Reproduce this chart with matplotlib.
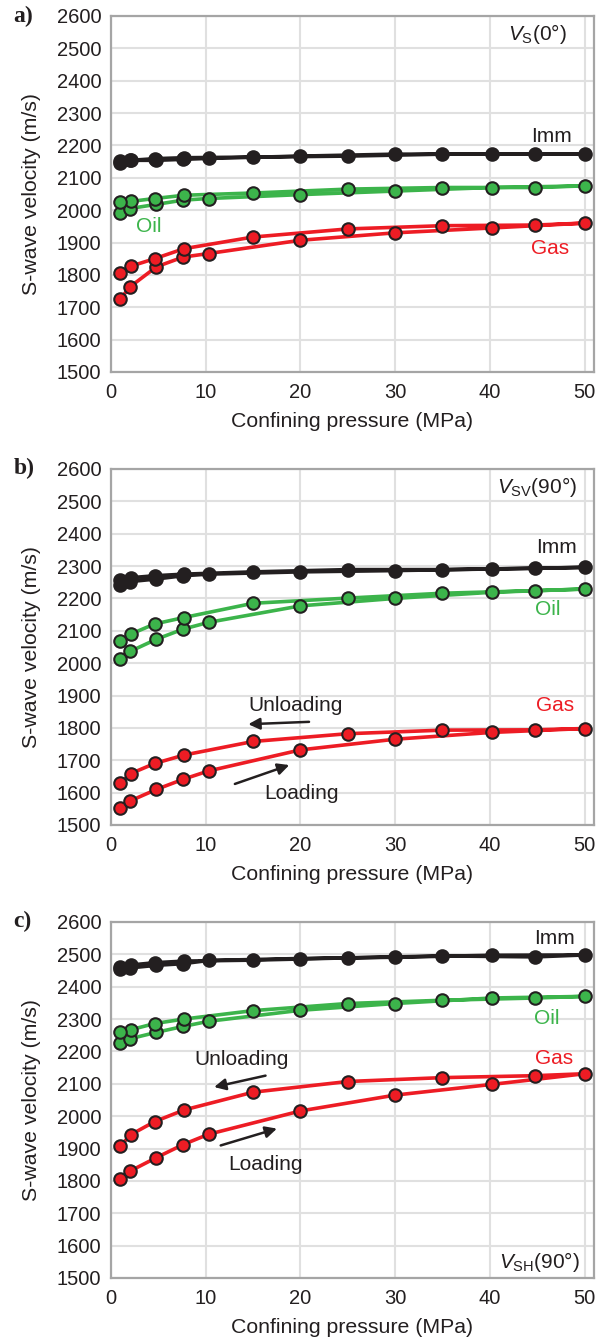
import matplotlib
matplotlib.use("Agg")
import matplotlib.pyplot as plt

# confining pressure steps (MPa): loading up, then unloading back down
p_load = [0.95, 2.0, 4.8, 7.6, 10.3, 20.0, 30.0, 40.2, 50.0]
p_unload = [44.8, 35.0, 25.0, 15.0, 7.7, 4.6, 2.1, 0.95]

# a) Vs(0 deg)
a_gas_load = [1724, 1763, 1825, 1855, 1866, 1907, 1930, 1945, 1960]
a_gas_unload = [1954, 1952, 1942, 1917, 1881, 1850, 1827, 1806]
a_oil_load = [1991, 2005, 2018, 2031, 2036, 2048, 2059, 2070, 2075]
a_oil_unload = [2070, 2070, 2065, 2053, 2046, 2036, 2027, 2024]
a_imm_load = [2147, 2154, 2154, 2157, 2160, 2167, 2173, 2173, 2173]
a_imm_unload = [2173, 2173, 2167, 2164, 2162, 2159, 2154, 2151]

# b) Vsv(90 deg)
b_gas_load = [1552, 1574, 1610, 1641, 1667, 1732, 1765, 1786, 1798]
b_gas_unload = [1794, 1793, 1782, 1758, 1716, 1690, 1659, 1629]
b_oil_load = [2014, 2036, 2074, 2105, 2126, 2177, 2200, 2219, 2229]
b_oil_unload = [2224, 2216, 2201, 2185, 2141, 2121, 2090, 2069]
b_imm_load = [2242, 2252, 2260, 2270, 2275, 2282, 2286, 2291, 2296]
b_imm_unload = [2293, 2289, 2289, 2282, 2275, 2270, 2264, 2257]

# c) Vsh(90 deg)
c_gas_load = [1805, 1830, 1872, 1912, 1944, 2016, 2065, 2098, 2131]
c_gas_unload = [2125, 2119, 2107, 2074, 2019, 1983, 1943, 1907]
c_oil_load = [2226, 2239, 2259, 2277, 2293, 2327, 2348, 2365, 2370]
c_oil_unload = [2365, 2358, 2348, 2326, 2300, 2286, 2267, 2260]
c_imm_load = [2456, 2458, 2466, 2471, 2481, 2487, 2491, 2497, 2498]
c_imm_unload = [2492, 2495, 2489, 2482, 2479, 2474, 2467, 2461]

x_ticks = [0, 10, 20, 30, 40, 50]
y_ticks = list(range(1500, 2700, 100))

plt.rcParams["font.family"] = ["Liberation Sans", "DejaVu Sans"]
plt.rcParams["mathtext.fontset"] = "custom"
plt.rcParams["mathtext.rm"] = "Liberation Sans"
plt.rcParams["mathtext.it"] = "Liberation Sans:italic"

BLACK = '#231f20'
GREEN = '#3cb44b'
RED = '#ed1c24'

fig = plt.figure(figsize=(6.09, 13.41), dpi=100)

panels = [
    dict(pos=[0.1823, 0.7226, 0.7931, 0.2655], tag='a)', title=r'$V_{\mathrm{S}}$(0°)', title_xy=(45.0, 2545),
         gas=(a_gas_load, a_gas_unload), oil=(a_oil_load, a_oil_unload), imm=(a_imm_load, a_imm_unload),
         imm_xy=(46.5, 2228), oil_xy=(4.0, 1948), gas_xy=(46.4, 1881), arrows=None),
    dict(pos=[0.1823, 0.3848, 0.7931, 0.2655], tag='b)', title=r'$V_{\mathrm{SV}}$(90°)', title_xy=(45.0, 2543),
         gas=(b_gas_load, b_gas_unload), oil=(b_oil_load, b_oil_unload), imm=(b_imm_load, b_imm_unload),
         imm_xy=(47.0, 2358), oil_xy=(46.1, 2167), gas_xy=(46.9, 1870),
         arrows=((19.5, 1870), (21.2, 1819), (14.2, 1811), (20.1, 1598), (12.8, 1624), (19.1, 1688))),
    dict(pos=[0.1823, 0.047, 0.7931, 0.2655], tag='c)', title=r'$V_{\mathrm{SH}}$(90°)', title_xy=(45.2, 1550),
         gas=(c_gas_load, c_gas_unload), oil=(c_oil_load, c_oil_unload), imm=(c_imm_load, c_imm_unload),
         imm_xy=(46.8, 2549), oil_xy=(46.0, 2301), gas_xy=(46.8, 2179),
         arrows=((13.8, 2174), (16.6, 2127), (10.6, 2088), (16.3, 1850), (11.3, 1907), (17.8, 1964))),
]

for p in panels:
    ax = fig.add_axes(p['pos'])
    for key, col in (('gas', RED), ('oil', GREEN), ('imm', BLACK)):
        load, unload = p[key]
        xs = p_load + p_unload
        ys = load + unload
        ax.plot(xs, ys, color=col, lw=2.6, marker='o', ms=9, mfc=col,
                mec=BLACK, mew=1.5, zorder=3, clip_on=False)

    ax.set_xlim(0, 51)
    ax.set_ylim(1500, 2600)
    ax.set_xticks(x_ticks)
    ax.set_yticks(y_ticks)
    ax.tick_params(length=0, labelsize=14.5, colors='#231f20')
    ax.tick_params(axis='x', pad=8)
    ax.tick_params(axis='y', pad=7)
    ax.grid(color='#e0e0e0', lw=1.5)
    ax.set_axisbelow(True)
    for s in ax.spines.values():
        s.set_color('#a5a5a5')
        s.set_linewidth(1.6)
    ax.set_xlabel('Confining pressure (MPa)', fontsize=15.3, color='#231f20', labelpad=7)
    ax.set_ylabel('S-wave velocity (m/s)', fontsize=15.3, color='#231f20', labelpad=11)

    ax.text(*p['title_xy'], p['title'], fontsize=15, ha='center', va='center', color='#231f20')
    ax.text(*p['imm_xy'], 'Imm', fontsize=15, ha='center', va='center', color=BLACK)
    ax.text(*p['oil_xy'], 'Oil', fontsize=15, ha='center', va='center', color=GREEN)
    ax.text(*p['gas_xy'], 'Gas', fontsize=15, ha='center', va='center', color=RED)

    if p['arrows']:
        ut, us, ue, lt, ls, le = p['arrows']
        ax.text(*ut, 'Unloading', fontsize=15, ha='center', va='center', color=BLACK)
        ax.annotate('', xy=ue, xytext=us,
                    arrowprops=dict(arrowstyle='-|>', color=BLACK, lw=1.8, mutation_scale=17))
        ax.text(*lt, 'Loading', fontsize=15, ha='center', va='center', color=BLACK)
        ax.annotate('', xy=le, xytext=ls,
                    arrowprops=dict(arrowstyle='-|>', color=BLACK, lw=1.8, mutation_scale=17))

    top = p['pos'][1] + p['pos'][3]
    fig.text(0.022, top, p['tag'], fontsize=17, fontweight='bold',
             family='Liberation Serif', ha='left', va='center', color='#231f20')

fig.savefig('out.png', dpi=100)
